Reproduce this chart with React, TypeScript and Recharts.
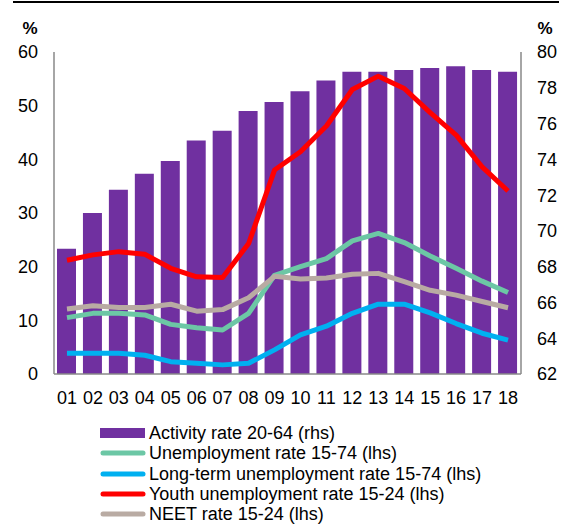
import React from 'react';
import { ComposedChart, Bar, Line, XAxis, YAxis } from 'recharts';

const categories = ['01','02','03','04','05','06','07','08','09','10','11','12','13','14','15','16','17','18'];
const activityRate = [69.0,71.0,72.3,73.2,73.9,75.05,75.6,76.7,77.2,77.8,78.4,78.9,78.9,79.0,79.1,79.2,79.0,78.9];
const unemploymentRate = [10.5,11.3,11.3,11.0,9.25,8.6,8.2,11.3,18.4,20.0,21.5,24.8,26.2,24.5,22.0,19.7,17.3,15.2];
const longTermRate = [3.85,3.85,3.85,3.5,2.3,2.0,1.7,2.0,4.5,7.3,8.9,11.3,13.0,13.0,11.4,9.4,7.6,6.3];
const youthRate = [21.2,22.2,22.8,22.3,19.7,18.1,18.0,24.3,38.0,41.4,46.2,53.0,55.5,53.2,48.7,44.5,38.6,34.1];
const neetRate = [12.1,12.7,12.4,12.4,13.0,11.7,12.0,14.2,18.2,17.7,17.9,18.6,18.75,17.2,15.6,14.7,13.5,12.35];
const leftTicks = [0,10,20,30,40,50,60];
const rightTicks = [62,64,66,68,70,72,74,76,78,80];

const legendItems = [
  { label: 'Activity rate 20-64 (rhs)', color: '#7030A0', kind: 'bar' },
  { label: 'Unemployment rate 15-74 (lhs)', color: '#6CC7A5', kind: 'line' },
  { label: 'Long-term unemployment rate 15-74 (lhs)', color: '#00B0F0', kind: 'line' },
  { label: 'Youth unemployment rate 15-24 (lhs)', color: '#FF0000', kind: 'line' },
  { label: 'NEET rate 15-24 (lhs)', color: '#B9ABA3', kind: 'line' },
];

const data = categories.map((c, i) => ({
  cat: c,
  activity: activityRate[i],
  unemp: unemploymentRate[i],
  lt: longTermRate[i],
  youth: youthRate[i],
  neet: neetRate[i],
}));

const FONT = '"Liberation Sans", Arial, sans-serif';

const LegendBlock = () => (
  <div style={{ position: 'absolute', left: 100, top: 423, fontFamily: FONT, fontSize: 18, color: '#000', lineHeight: '20px' }}>
    {legendItems.map((it) => (
      <div key={it.label} style={{ display: 'flex', alignItems: 'center', height: 20.3, whiteSpace: 'nowrap' }}>
        <svg width={49} height={12} style={{ flex: 'none' }}>
          {it.kind === 'bar' ? (
            <rect x={0} y={1} width={45} height={10} fill={it.color} />
          ) : (
            <line x1={3} y1={6} x2={43} y2={6} stroke={it.color} strokeWidth={5} strokeLinecap="round" />
          )}
        </svg>
        <span>{it.label}</span>
      </div>
    ))}
  </div>
);

export default function App() {
  return (
    <div style={{ position: 'absolute', left: 0, top: 0, width: 561, height: 524, background: '#fff' }}>
      <div style={{ position: 'absolute', left: 13, top: 1, width: 546, height: 0, borderTop: '2px solid #000' }} />
      <ComposedChart
        width={561}
        height={524}
        data={data}
        margin={{ top: 52, right: 0, left: 0, bottom: 120 }}
        barSize={19}
      >
        <XAxis
          dataKey="cat"
          height={30}
          tickLine={false}
          tickSize={0}
          tickMargin={17}
          axisLine={{ stroke: '#898989', strokeWidth: 1.5 }}
          tick={{ fill: '#000', fontSize: 18, fontFamily: FONT }}
          interval={0}
        />
        <YAxis
          yAxisId="left"
          orientation="left"
          width={54}
          domain={[0, 60]}
          ticks={leftTicks}
          interval={0}
          tickLine={false}
          tickSize={0}
          tickMargin={16}
          axisLine={{ stroke: '#898989', strokeWidth: 1.5 }}
          tick={{ fill: '#000', fontSize: 18, fontFamily: FONT }}
          label={() => (
            <text x={30} y={34} textAnchor="middle" fontFamily={FONT} fontSize={17} fontWeight="bold" fill="#000">%</text>
          )}
        />
        <YAxis
          yAxisId="right"
          orientation="right"
          width={40}
          domain={[62, 80]}
          ticks={rightTicks}
          interval={0}
          tickLine={false}
          tickSize={0}
          tickMargin={16}
          axisLine={{ stroke: '#898989', strokeWidth: 1.5 }}
          tick={{ fill: '#000', fontSize: 18, fontFamily: FONT }}
          label={() => (
            <text x={545} y={34} textAnchor="middle" fontFamily={FONT} fontSize={17} fontWeight="bold" fill="#000">%</text>
          )}
        />
        <Bar yAxisId="right" dataKey="activity" fill="#7030A0" isAnimationActive={false} />
        <Line yAxisId="left" type="linear" dataKey="unemp" stroke="#6CC7A5" strokeWidth={5} dot={false} strokeLinejoin="round" isAnimationActive={false} />
        <Line yAxisId="left" type="linear" dataKey="lt" stroke="#00B0F0" strokeWidth={5} dot={false} strokeLinejoin="round" isAnimationActive={false} />
        <Line yAxisId="left" type="linear" dataKey="youth" stroke="#FF0000" strokeWidth={5} dot={false} strokeLinejoin="round" isAnimationActive={false} />
        <Line yAxisId="left" type="linear" dataKey="neet" stroke="#B9ABA3" strokeWidth={5} dot={false} strokeLinejoin="round" isAnimationActive={false} />
      </ComposedChart>
      <LegendBlock />
    </div>
  );
}
